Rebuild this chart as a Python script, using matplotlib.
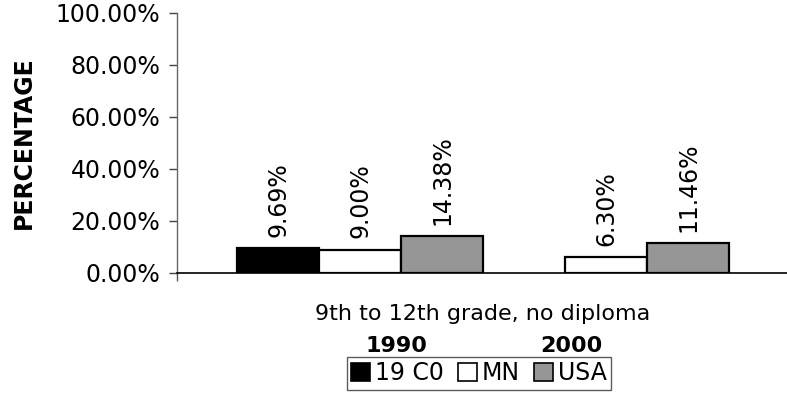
import matplotlib
matplotlib.use("Agg")
import matplotlib.pyplot as plt
from matplotlib.patches import Patch
from matplotlib.ticker import FuncFormatter

# data
series = ['19 C0', 'MN', 'USA']
years = ['1990', '2000']
values_1990 = [9.69, 9.00, 14.38]
values_2000 = [None, 6.30, 11.46]   # no 19 C0 value for 2000
category = '9th to 12th grade, no diploma'

colors = ['#000000', '#ffffff', '#969696']
FS = 16

plt.rcParams['font.family'] = 'DejaVu Sans'

fig = plt.figure(figsize=(7.87, 3.98), dpi=100)
ax = fig.add_axes([177 / 787, 1 - 273 / 398, 610 / 787, 260 / 398])

for j, vals in enumerate([values_1990, values_2000]):
    for i, v in enumerate(vals):
        if v is None:
            continue
        x = j * len(series) + i
        ax.bar(x, v, width=1.0, color=colors[i], edgecolor='black', linewidth=1.6, zorder=3)
        ax.annotate(f'{v:.2f}%', (x, v), xytext=(0, 8), textcoords='offset points',
                    rotation=90, ha='center', va='bottom', fontsize=17)

ax.set_xlim(-1.232, 6.207)
ax.set_ylim(0, 100)
ax.set_yticks(range(0, 101, 20))
ax.yaxis.set_major_formatter(FuncFormatter(lambda v, p: f'{v:.2f}%'))
ax.tick_params(axis='y', direction='out', length=6, width=1, color='#444444', pad=6, labelsize=17)

# category label in the middle of the axis, edge tick on the left
ax.set_xticks([2.5])
ax.set_xticklabels([category], fontsize=FS)
ax.tick_params(axis='x', which='major', length=0, pad=22)
ax.set_xticks([-1.232], minor=True)
ax.tick_params(axis='x', which='minor', direction='out', length=6, width=1, color='#555555')

for s in ['top', 'right']:
    ax.spines[s].set_visible(False)
ax.spines['left'].set_color('#666666')
ax.spines['left'].set_linewidth(1)
ax.spines['bottom'].set_color('black')
ax.spines['bottom'].set_linewidth(1.2)

fig.text(24 / 787, 1 - 143 / 398, 'PERCENTAGE', rotation=90, ha='center', va='center',
         fontsize=17, fontweight='bold')

# year labels above the legend
for yr, xpix in zip(years, [396, 571]):
    fig.text(xpix / 787, 1 - 346 / 398, yr, ha='center', va='center', fontsize=FS, fontweight='bold')

handles = [Patch(facecolor=c, edgecolor='black', linewidth=1.2) for c in colors]
leg = fig.legend(handles, series, loc='center', bbox_to_anchor=(479 / 787, 1 - 373.5 / 398),
                 ncol=3, fontsize=17, frameon=True, fancybox=False, edgecolor='#333333',
                 handlelength=0.8, handleheight=0.8, handletextpad=0.2, columnspacing=0.6,
                 borderpad=0.2, borderaxespad=0)
leg.get_frame().set_linewidth(1)

fig.savefig('out.png', dpi=100)
